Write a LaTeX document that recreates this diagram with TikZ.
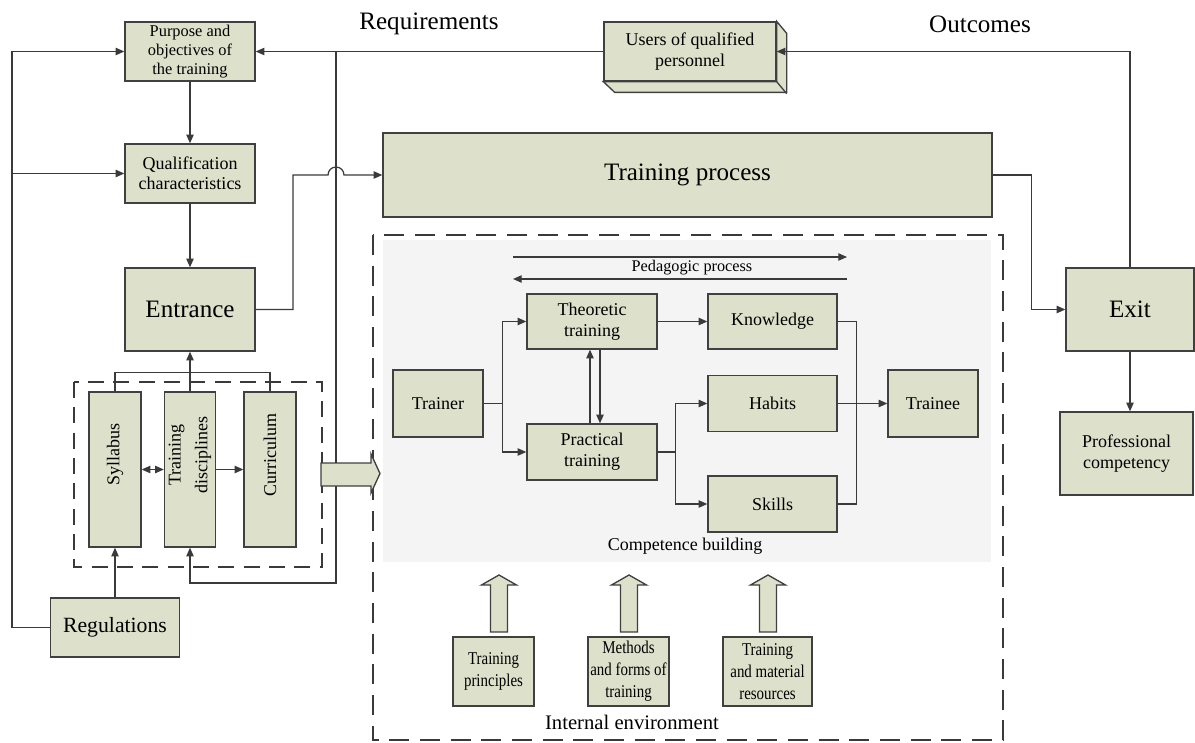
\documentclass[tikz,border=0pt]{standalone}
\usepackage{fontspec}
\setmainfont{Liberation Serif}
\newfontfamily\narrowfont[FakeStretch=0.83]{Liberation Serif}
\usetikzlibrary{arrows.meta,calc}
\definecolor{boxfill}{HTML}{DDE1CB}
\definecolor{panel}{HTML}{F4F4F4}
\definecolor{ink}{HTML}{3A3A3A}
\newcommand{\fsz}[2]{\fontsize{#1}{#2}\selectfont}

\begin{document}
\begin{tikzpicture}[x=0.75pt,y=-0.75pt,>={Triangle[length=6.5pt,width=5.5pt]}]
        \tikzstyle{box}=[rectangle,draw=black!75,line width=1pt,fill=boxfill,align=center,inner sep=1pt,font=\fsz{13.5}{16}]
        \tikzstyle{edge}=[draw=ink,line width=0.95pt]
        \tikzstyle{hollow}=[draw=black!75,line width=1pt,fill=boxfill]
        \tikzstyle{dashframe}=[draw=ink,line width=1pt,dash pattern=on 15pt off 8pt]
        \tikzstyle{captext}=[inner sep=0pt]
        \useasboundingbox (0,0) rectangle (1195,742);

        % internal environment
        \fill[panel] (383,240) rectangle (991,562);
        \draw[dashframe] (373,235) rectangle (1003,740);
        \draw[dashframe,dash pattern=on 12pt off 7pt] (74,382) rectangle (322,567);

        % left column
        \node [box,minimum width=97.5pt,minimum height=44.25pt,font=\fsz{12.3}{14}] (purp) at (190,51.5) {Purpose and\\objectives of\\the training};
        \node [box,minimum width=97.5pt,minimum height=44.25pt,font=\fsz{13.5}{15}] (qual) at (190,173.5) {Qualification\\characteristics};
        \node [box,minimum width=97.5pt,minimum height=62.25pt,font=\fsz{18.8}{22}] (entr) at (190,309.5) {Entrance};
        \node [box,minimum width=39pt,minimum height=116.25pt] (syl) at (115,469.5) {\rotatebox{90}{\hspace*{22pt}Syllabus}};
        \node [box,minimum width=38.25pt,minimum height=116.25pt] (disc) at (190,469.5) {\rotatebox{90}{\hspace*{22pt}\parbox{70pt}{\centering\fsz{13.5}{20}Training\\disciplines}}};
        \node [box,minimum width=39pt,minimum height=116.25pt] (curr) at (270,469.5) {\rotatebox{90}{\hspace*{22pt}Curriculum}};
        \node [box,minimum width=96.75pt,minimum height=44.25pt,font=\fsz{16.3}{19}] (regu) at (115,627.5) {Regulations};

        % top row and right column
        \node [captext,font=\fsz{18.8}{22}] (reqs) at (429,24) {Requirements};
        \node [captext,font=\fsz{18.8}{22}] (outc) at (980,24) {Outcomes};
        \node [box,minimum width=129pt,minimum height=44.25pt,font=\fsz{13.5}{15.75}] (users) at (690,51.5) {Users of qualified\\personnel};
        \filldraw[hollow] (users.north east) -- ++(10,12) -- ++(0,59) -- ++(-172,0) -- (users.south west) -- (users.south east) -- cycle;
        \draw[draw=black!75,line width=1pt] (users.south east) -- ++(10,12);
        \node [box,minimum width=456.75pt,minimum height=63pt,font=\fsz{18.8}{22}] (proc) at (687.5,175) {\raisebox{-4pt}{Training process}};
        \node [box,minimum width=96pt,minimum height=62.25pt,font=\fsz{18.8}{22}] (exit) at (1130,309.5) {Exit};
        \node [box,minimum width=99.75pt,minimum height=62.25pt] (prof) at (1126.5,453.5) {Professional\\competency};

        % competence building
        \node [captext,font=\fsz{12.2}{14}] (peda) at (692,268) {Pedagogic process};
        \coordinate (pedw) at (513,257);
        \coordinate (pede) at (847,257);
        \node [box,minimum width=67.5pt,minimum height=50.25pt] (trnr) at (438,403.5) {Trainer};
        \node [box,minimum width=97.5pt,minimum height=41.25pt] (theo) at (592,321.5) {Theoretic\\training};
        \node [box,minimum width=97.5pt,minimum height=42pt] (prac) at (592,452) {Practical\\training};
        \node [box,minimum width=96.75pt,minimum height=41.25pt] (know) at (772.5,321.5) {Knowledge};
        \node [box,minimum width=96.75pt,minimum height=42pt] (habi) at (772.5,403.5) {Habits};
        \node [box,minimum width=96.75pt,minimum height=42pt] (skil) at (772.5,504) {Skills};
        \node [box,minimum width=67.5pt,minimum height=50.25pt] (tnee) at (933,403.5) {Trainee};
        \node [captext,font=\fsz{13.5}{16}] (comp) at (685,546) {Competence building};

        % internal environment factors
        \node [box,minimum width=60.75pt,minimum height=51.75pt,font=\narrowfont\fsz{13.5}{16.5}] (prin) at (493.5,671.5) {Training\\principles};
        \node [box,minimum width=60.75pt,minimum height=51.75pt,font=\narrowfont\fsz{13.5}{16.5}] (meth) at (628.5,671.5) {Methods\\and forms of\\training};
        \node [box,minimum width=66.75pt,minimum height=51.75pt,font=\narrowfont\fsz{13.5}{16.5}] (reso) at (767.5,671.5) {Training\\and material\\resources};
        \node [captext,font=\fsz{15.5}{18}] (inen) at (632,722) {Internal environment};
        \foreach \ax in {499,629,768}
          \filldraw[hollow] (\ax-8.5,632) -- (\ax-8.5,585) -- (\ax-17.5,585) -- (\ax,575) -- (\ax+17.5,585) -- (\ax+8.5,585) -- (\ax+8.5,632) -- cycle;

        % connectors
        \path[edge,->] (purp) -- (qual);
        \path[edge,->] (qual) -- (entr);
        \coordinate (lbus) at (12,627.5);
        \path[edge,->] (regu.west) -- (lbus) |- (purp.west);
        \path[edge,->] (lbus |- qual.west) -- (qual.west);
        \path[edge,->] (users.west) -- (purp.east);
        \coordinate (rbus) at (336,583);
        \path[edge,->] (rbus |- purp.east) -- (rbus) -| (disc.south);
        \coordinate (ejog) at (293,175);
        \path[edge,->] (entr.east) -| (ejog) -- ($(rbus |- ejog)+(-8,0)$) arc[start angle=180,end angle=0,radius=6pt] -- (proc.west);
        \path[edge,->] (proc.east) -- ++(39,0) |- (exit.west);
        \path[edge,->] (exit.north) |- (users.east);
        \path[edge,->] (exit) -- (exit |- prof.north);
        \path[edge] (syl.north) -- ++(0,-19) -| (curr.north);
        \path[edge,->] (disc.north) -- (entr.south);
        \path[edge,<->] (syl) -- (disc);
        \path[edge,->] (disc) -- (curr);
        \path[edge,->] (regu) -- (syl);
        \filldraw[hollow] (321,463) -- (371,463) -- (371,454) -- (380,473.5) -- (371,493) -- (371,486) -- (321,486) -- cycle;

        \path[edge,->] (pedw) -- (pede);
        \path[edge,->] ($(pede)+(0,22)$) -- ($(pedw)+(0,22)$);
        \path[edge,->] (trnr.east) -- ++(19,0) |- (theo.west);
        \path[edge,->] (trnr.east) -- ++(19,0) |- (prac.west);
        \path[edge,->] (theo) -- (know);
        \path[edge,->] ($(prac.north)+(-2,0)$) -- ($(theo.south)+(-2,0)$);
        \path[edge,->] ($(theo.south)+(8,0)$) -- ($(prac.north)+(8,0)$);
        \path[edge,->] (prac.east) -- ++(18,0) |- (habi.west);
        \path[edge,->] (prac.east) -- ++(18,0) |- (skil.west);
        \path[edge] (know.east) -- ++(19,0) |- (skil.east);
        \path[edge,->] (habi) -- (tnee);
      \end{tikzpicture}
\end{document}
